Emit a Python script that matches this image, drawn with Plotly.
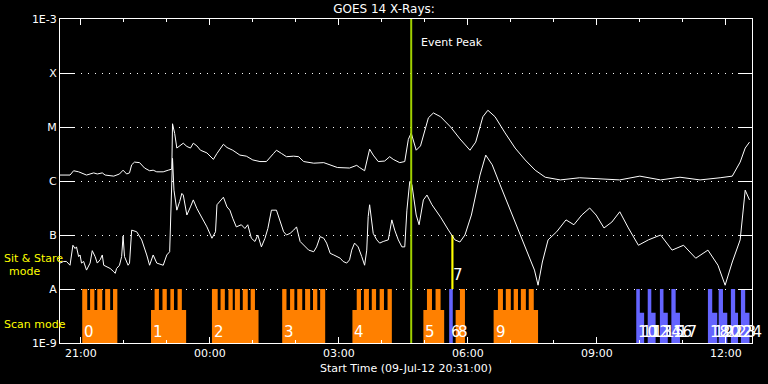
import plotly.graph_objects as go
import pandas as pd

# ---------------- data ----------------
START = pd.Timestamp("2012-07-09 20:31:00")
END = pd.Timestamp("2012-07-10 12:36:30")
EVENT_PEAK_MIN = 490  # minutes after start

# GOES long channel: (minutes after start, log10 flux W/m^2)
long_channel = [
    (0, -5.89), (14, -5.89), (19, -5.81), (26, -5.83), (37, -5.89), (47, -5.85), (52, -5.87),
    (59, -5.85), (63, -5.89), (75, -5.91), (83, -5.87), (88, -5.80), (93, -5.87), (97, -5.85),
    (100, -5.70), (104, -5.65), (111, -5.66), (118, -5.76), (125, -5.81), (130, -5.80),
    (135, -5.83), (144, -5.83), (151, -5.80), (156, -5.78), (157, -4.94), (160, -5.12),
    (163, -5.39), (167, -5.35), (172, -5.30), (177, -5.36), (182, -5.39), (186, -5.30),
    (191, -5.35), (196, -5.43), (205, -5.48), (214, -5.60), (219, -5.49), (228, -5.32),
    (233, -5.38), (241, -5.43), (251, -5.52), (260, -5.54), (269, -5.61), (279, -5.64),
    (288, -5.64), (298, -5.49), (302, -5.43), (309, -5.49), (316, -5.55), (326, -5.54),
    (333, -5.55), (340, -5.64), (354, -5.67), (368, -5.66), (377, -5.70), (387, -5.75),
    (404, -5.76), (414, -5.71), (418, -5.75), (425, -5.81), (432, -5.41), (437, -5.52),
    (444, -5.64), (453, -5.63), (460, -5.55), (465, -5.60), (474, -5.66), (481, -5.64),
    (486, -5.23), (490, -5.11), (497, -5.43), (503, -5.35), (514, -4.83), (521, -4.74),
    (531, -4.81), (545, -5.00), (558, -5.22), (572, -5.43), (580, -5.28), (590, -4.81),
    (597, -4.69), (607, -4.81), (621, -5.11), (635, -5.39), (649, -5.61), (663, -5.80),
    (677, -5.93), (698, -5.98), (725, -5.94), (753, -5.96), (781, -5.98), (809, -5.91),
    (838, -5.98), (865, -5.93), (893, -5.98), (921, -5.94), (938, -5.91), (949, -5.65),
    (956, -5.39), (962, -5.28),
]

# GOES short channel: (minutes after start, log10 flux W/m^2)
short_channel = [
    (0, -7.52), (5, -7.49), (9, -7.49), (14, -7.56), (18, -7.19), (21, -7.25), (23, -7.22),
    (26, -7.40), (28, -7.37), (30, -7.52), (33, -7.49), (37, -7.65), (42, -7.52), (45, -7.29),
    (49, -7.40), (52, -7.52), (56, -7.46), (59, -7.37), (61, -7.56), (66, -7.59), (70, -7.62),
    (75, -7.68), (77, -7.71), (79, -7.62), (83, -7.56), (86, -7.40), (88, -7.02), (90, -7.40),
    (95, -7.56), (97, -7.52), (100, -6.91), (107, -6.94), (114, -7.09), (121, -7.37),
    (125, -7.56), (130, -7.37), (135, -7.52), (144, -7.56), (149, -7.37), (153, -7.31),
    (156, -5.58), (157, -5.58), (159, -6.17), (163, -6.54), (167, -6.38), (170, -6.23),
    (172, -6.26), (177, -6.63), (182, -6.48), (186, -6.35), (191, -6.51), (196, -6.63),
    (200, -6.75), (205, -6.85), (212, -7.06), (217, -6.94), (219, -6.44), (224, -6.35),
    (228, -6.30), (233, -6.48), (237, -6.54), (241, -6.69), (246, -6.85), (253, -6.81),
    (258, -6.88), (262, -6.81), (267, -7.06), (272, -7.12), (276, -7.00), (281, -7.22),
    (286, -7.06), (290, -6.88), (295, -6.54), (302, -6.54), (307, -6.75), (312, -6.94),
    (316, -7.00), (321, -6.97), (326, -6.91), (330, -6.85), (335, -7.12), (342, -7.22),
    (347, -7.28), (354, -7.31), (358, -7.22), (363, -7.03), (368, -7.06), (372, -7.15),
    (377, -7.34), (382, -7.37), (391, -7.43), (395, -7.49), (400, -7.52), (404, -7.46),
    (407, -7.28), (411, -7.15), (416, -7.22), (421, -7.40), (425, -7.56), (428, -7.28),
    (430, -6.66), (432, -6.44), (437, -6.97), (442, -7.09), (446, -7.15), (451, -7.12),
    (458, -7.09), (463, -6.72), (467, -6.91), (472, -7.09), (477, -7.22), (481, -7.22),
    (484, -6.54), (488, -6.01), (491, -6.07), (497, -6.63), (501, -6.81), (507, -6.35),
    (512, -6.26), (519, -6.44), (531, -6.67), (542, -6.91), (551, -7.09), (558, -7.13),
    (565, -7.00), (574, -6.63), (586, -5.89), (594, -5.52), (603, -5.70), (614, -6.07),
    (628, -6.54), (642, -7.00), (653, -7.37), (662, -7.65), (667, -7.93), (673, -7.50),
    (681, -7.09), (693, -6.94), (706, -6.72), (717, -6.81), (728, -6.63), (739, -6.50),
    (748, -6.63), (759, -6.87), (770, -6.76), (781, -6.57), (793, -6.87), (807, -7.19),
    (821, -7.09), (838, -7.00), (854, -7.28), (870, -7.19), (887, -7.43), (904, -7.28),
    (918, -7.56), (928, -7.93), (938, -7.50), (949, -7.09), (956, -6.17), (962, -6.35),
]

# Scan-mode (orange) observations: label, base interval, raster teeth intervals (minutes)
scan_obs = [
    ("0", (31, 80), [(31, 38), (42, 48), (52, 59), (63, 70), (74, 80)]),
    ("1", (127, 176), [(132, 138), (143, 149), (154, 159), (164, 170)]),
    ("2", (212, 277), [(212, 220), (224, 230), (235, 241), (244, 251), (255, 262), (266, 272)]),
    ("3", (310, 370), [(310, 316), (321, 327), (331, 338), (342, 349), (353, 359), (363, 370)]),
    ("4", (408, 463), [(414, 420), (424, 431), (435, 441), (446, 452), (457, 463)]),
    ("5", (507, 536), [(512, 519), (524, 531)]),
    ("8", (552, 565), [(558, 565)]),
    ("9", (605, 667), [(611, 618), (622, 629), (633, 639), (643, 650), (654, 661)]),
]
SCAN_BASE_LOG = -8.39

# Other (blue) observations: label, start, end, log10 top
blue_obs = [
    ("6", 543, 548, -8.0),
    ("10", 804, 809, -8.0), ("11", 809, 815, -8.44), ("12", 820, 825, -8.0),
    ("13", 825, 831, -8.44), ("14", 837, 842, -8.0), ("15", 842, 848, -8.44),
    ("16", 853, 859, -8.0), ("17", 859, 865, -8.44),
    ("18", 904, 910, -8.0), ("19", 910, 917, -8.44), ("20", 919, 925, -8.0),
    ("21", 925, 931, -8.44), ("22", 936, 942, -8.0), ("23", 942, 946, -8.44),
    ("24", 950, 956, -8.0), ("", 956, 962, -8.44),
]

# Sit & stare (yellow) observations: label, start, end (band A..B)
sit_obs = [("7", 546, 549)]

TICK_LOGS = [-9, -8, -7, -6, -5, -4, -3]
TICK_TEXT = ["1E-9", "A", "B", "C", "M", "X", "1E-3"]


# ---------------- helpers ----------------
def t(m):
    return START + pd.Timedelta(minutes=m)


def rect_path(intervals, bottom):
    xs, ys = [], []
    for s, e, top in intervals:
        xs += [t(s), t(s), t(e), t(e), t(s), None]
        ys += [bottom, top, top, bottom, bottom, None]
    return xs, ys


FONT = "DejaVu Sans"
fig = go.Figure()

# orange scan bars
orange_iv = []
for lab, base, teeth in scan_obs:
    orange_iv.append((base[0], base[1], 10 ** SCAN_BASE_LOG))
    for s, e in teeth:
        orange_iv.append((s, e, 1e-8))
ox, oy = rect_path(orange_iv, 1e-9)
fig.add_trace(go.Scatter(x=ox, y=oy, mode="lines", fill="toself", fillcolor="#ff8000",
                         line=dict(width=0, color="#ff8000"), hoverinfo="skip"))

# blue bars
bx, by = rect_path([(s, e, 10 ** lt) for _, s, e, lt in blue_obs], 1e-9)
fig.add_trace(go.Scatter(x=bx, y=by, mode="lines", fill="toself", fillcolor="#6464ff",
                         line=dict(width=0, color="#6464ff"), hoverinfo="skip"))

# sit & stare bars
sx, sy = rect_path([(s, e, 1e-7) for _, s, e in sit_obs], 1e-8)
fig.add_trace(go.Scatter(x=sx, y=sy, mode="lines", fill="toself", fillcolor="#ffff00",
                         line=dict(width=0, color="#ffff00"), hoverinfo="skip"))

# GOES curves
for series in (long_channel, short_channel):
    fig.add_trace(go.Scatter(x=[t(m) for m, _ in series], y=[10 ** v for _, v in series],
                             mode="lines", line=dict(color="white", width=1),
                             hoverinfo="skip"))

# event peak line
fig.add_trace(go.Scatter(x=[t(EVENT_PEAK_MIN), t(EVENT_PEAK_MIN)], y=[1e-9, 1e-3],
                         mode="lines", line=dict(color="#a0d000", width=2), hoverinfo="skip"))

annotations = []
for lab, base, _ in scan_obs:
    annotations.append(dict(x=t(base[0]), y=-9, text=lab, xanchor="left", yanchor="bottom",
                            showarrow=False, font=dict(family=FONT, size=15, color="white")))
for lab, s, e, _ in blue_obs:
    if lab:
        annotations.append(dict(x=t(s), y=-9, text=lab, xanchor="left", yanchor="bottom",
                                showarrow=False, font=dict(family=FONT, size=15, color="white")))
for lab, s, e in sit_obs:
    annotations.append(dict(x=t(s), y=-7.95, text=lab, xanchor="left", yanchor="bottom",
                            showarrow=False, font=dict(family=FONT, size=15, color="white")))

annotations.append(dict(x=t(EVENT_PEAK_MIN), y=-3.444, text="Event Peak", xanchor="left",
                        yanchor="middle", xshift=8, showarrow=False,
                        font=dict(family=FONT, size=11, color="white")))
annotations.append(dict(xref="paper", yref="paper", x=0.5, y=-0.080,
                        text="Start Time (09-Jul-12 20:31:00)", xanchor="center",
                        yanchor="middle", showarrow=False,
                        font=dict(family=FONT, size=11, color="white")))
annotations.append(dict(xref="paper", yref="paper", x=-0.0842, y=0.2593, text="Sit & Stare",
                        xanchor="left", yanchor="middle", showarrow=False,
                        font=dict(family=FONT, size=11, color="#ffff00")))
annotations.append(dict(xref="paper", yref="paper", x=-0.0516, y=0.2222, text="mode",
                        xanchor="center", yanchor="middle", showarrow=False,
                        font=dict(family=FONT, size=11, color="#ffff00")))
annotations.append(dict(xref="paper", yref="paper", x=-0.0842, y=0.0586, text="Scan mode",
                        xanchor="left", yanchor="middle", showarrow=False,
                        font=dict(family=FONT, size=11, color="#ffff00")))

fig.update_layout(
    width=768, height=384,
    margin=dict(l=60, r=16, t=19, b=41),
    paper_bgcolor="black", plot_bgcolor="black",
    showlegend=False,
    font=dict(family=FONT, size=11, color="white"),
    title=dict(text="GOES 14 X-Rays:", x=0.5, xanchor="center", y=1 - 9 / 384,
               yanchor="middle", font=dict(family=FONT, size=12, color="white")),
    annotations=annotations,
    xaxis=dict(type="date", range=[START, END], tick0="2012-07-09 21:00",
               dtick=3 * 3600 * 1000, tickformat="%H:%M", ticks="inside", ticklen=6,
               tickcolor="white", showline=True, linecolor="white", linewidth=1,
               mirror="ticks", showgrid=False, zeroline=False,
               tickfont=dict(family=FONT, size=11, color="white"),
               minor=dict(tick0="2012-07-09 21:00", dtick=3600 * 1000, ticks="inside",
                          ticklen=3, tickcolor="white", showgrid=False)),
    yaxis=dict(type="log", range=[-9, -3], tickvals=[10 ** v for v in TICK_LOGS],
               ticktext=TICK_TEXT, ticks="inside", ticklen=14, tickcolor="white",
               showline=True, linecolor="white", linewidth=1, mirror="ticks",
               showgrid=True, gridcolor="white", griddash="1px,6px", gridwidth=1,
               zeroline=False, tickfont=dict(family=FONT, size=11, color="white")),
)

fig.write_html("out.html")
